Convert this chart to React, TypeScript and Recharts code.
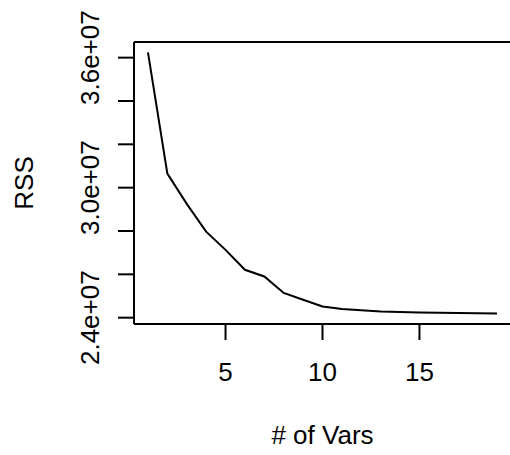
import React from 'react';
import { LineChart, Line, XAxis, YAxis, ReferenceLine } from 'recharts';

// number of variables in the model and the residual sum of squares
const numVars = [1, 2, 3, 4, 5, 6, 7, 8, 9, 10, 11, 12, 13, 14, 15, 16, 17, 18, 19];
const rss = [
  36.24e6, 30.65e6, 29.25e6, 27.97e6, 27.13e6, 26.21e6, 25.9e6, 25.14e6, 24.83e6, 24.52e6,
  24.4e6, 24.34e6, 24.29e6, 24.26e6, 24.24e6, 24.23e6, 24.215e6, 24.2e6, 24.19e6,
];
const xTicks = [5, 10, 15];
const yTicks = [2.4e7, 2.6e7, 2.8e7, 3.0e7, 3.2e7, 3.4e7, 3.6e7];
const yLabelled = ['2.4e+07', '3.0e+07', '3.6e+07'];

const data = numVars.map((n, i) => ({ vars: n, rss: rss[i] }));

// R pads the data range by 4% on each side
const pad = (lo: number, hi: number): [number, number] => {
  const r = hi - lo;
  return [lo - 0.04 * r, hi + 0.04 * r];
};
const xDomain = pad(Math.min(...numVars), Math.max(...numVars));
const yDomain = pad(Math.min(...rss), Math.max(...rss));

const FONT = '"Liberation Sans", Arial, Helvetica, sans-serif';
const FS = 26;

const fmtY = (v: number) => v.toExponential(1).replace('e+', 'e+0');

const XTick = ({ x, y, payload }: any) => (
  <text x={x} y={y + 41} textAnchor="middle" fontFamily={FONT} fontSize={FS} fill="#000">
    {payload.value}
  </text>
);

const YTick = ({ x, y, payload }: any) => {
  const label = fmtY(payload.value);
  if (!yLabelled.includes(label)) return null;
  return (
    <text
      x={x - 19}
      y={y}
      transform={`rotate(-90 ${x - 19} ${y})`}
      textAnchor="middle"
      fontFamily={FONT}
      fontSize={FS}
      fill="#000"
    >
      {label}
    </text>
  );
};

export default function App() {
  return (
    <div style={{ position: 'absolute', left: 0, top: 0, background: '#fff' }}>
      <LineChart width={510} height={455} data={data} margin={{ top: 42, right: -1, left: 0, bottom: 0 }}>
        <XAxis
          dataKey="vars"
          type="number"
          domain={xDomain}
          ticks={xTicks}
          height={131}
          tickSize={16}
          tickMargin={0}
          tick={<XTick />}
          tickLine={{ stroke: '#000', strokeWidth: 2 }}
          axisLine={{ stroke: '#000', strokeWidth: 2 }}
          label={{
            value: '# of Vars',
            content: ({ viewBox }: any) => (
              <text
                x={viewBox.x + viewBox.width / 2}
                y={viewBox.y + 120}
                textAnchor="middle"
                fontFamily={FONT}
                fontSize={FS}
                fill="#000"
              >
                # of Vars
              </text>
            ),
          }}
        />
        <YAxis
          type="number"
          domain={yDomain}
          ticks={yTicks}
          width={134}
          tickSize={16}
          tickMargin={0}
          interval={0}
          tick={<YTick />}
          tickLine={{ stroke: '#000', strokeWidth: 2 }}
          axisLine={{ stroke: '#000', strokeWidth: 2 }}
          label={{
            value: 'RSS',
            content: ({ viewBox }: any) => {
              const cx = 33;
              const cy = viewBox.y + viewBox.height / 2;
              return (
                <text
                  x={cx}
                  y={cy}
                  transform={`rotate(-90 ${cx} ${cy})`}
                  textAnchor="middle"
                  fontFamily={FONT}
                  fontSize={FS}
                  fill="#000"
                >
                  RSS
                </text>
              );
            },
          }}
        />
        {/* top edge of the plot box */}
        <ReferenceLine y={yDomain[1]} stroke="#000" strokeWidth={2} />
        <Line
          type="linear"
          dataKey="rss"
          stroke="#000"
          strokeWidth={2}
          dot={false}
          isAnimationActive={false}
        />
      </LineChart>
    </div>
  );
}
